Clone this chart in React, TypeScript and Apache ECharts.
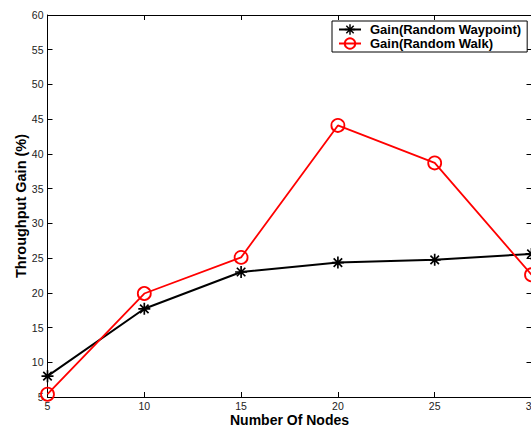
import React, { useEffect, useRef } from "react";
import * as echarts from "echarts";

const nodes = [5, 10, 15, 20, 25, 30];
const gainWaypoint = [8.0, 17.7, 23.0, 24.35, 24.75, 25.6];
const gainWalk = [5.4, 19.9, 25.1, 44.1, 38.7, 22.6];

function asteriskPath(): string {
  const c = 10, L = 10, w = 1.4;
  let d = "";
  for (const deg of [0, 45, 90, 135]) {
    const a = (deg * Math.PI) / 180;
    const dx = Math.cos(a), dy = Math.sin(a);
    const nx = -Math.sin(a), ny = Math.cos(a);
    const p = [
      [c - L * dx - w * nx, c - L * dy - w * ny],
      [c + L * dx - w * nx, c + L * dy - w * ny],
      [c + L * dx + w * nx, c + L * dy + w * ny],
      [c - L * dx + w * nx, c - L * dy + w * ny],
    ];
    d += `M${p[0][0].toFixed(3)} ${p[0][1].toFixed(3)}L${p[1][0].toFixed(3)} ${p[1][1].toFixed(3)}L${p[2][0].toFixed(3)} ${p[2][1].toFixed(3)}L${p[3][0].toFixed(3)} ${p[3][1].toFixed(3)}Z`;
  }
  return "path://" + d;
}

export default function App() {
  const ref = useRef<HTMLDivElement>(null);
  useEffect(() => {
    if (!ref.current) return;
    const chart = echarts.init(ref.current, null, { renderer: "svg" });
    const font = "'Liberation Sans', Arial, Helvetica, sans-serif";
    const tickLabel = { color: "#222", fontSize: 10.5, lineHeight: 11, fontFamily: font };
    const axisLine = { show: true, lineStyle: { color: "#000", width: 1 } };
    const axisTick = { show: true, inside: true, length: 5, lineStyle: { color: "#000", width: 1 } };
    chart.setOption({
      animation: false,
      backgroundColor: "#fff",
      grid: { left: 47.5, top: 15, right: 28.5, bottom: 31, containLabel: false, outerBoundsMode: "none" },
      legend: {
        orient: "vertical",
        left: 332,
        top: 21,
        padding: [2, 6, 2, 6],
        itemGap: 1,
        itemWidth: 22,
        itemHeight: 13,
        borderColor: "#000",
        borderWidth: 1,
        backgroundColor: "#fff",
        textStyle: { color: "#000", fontSize: 13, fontWeight: "bold", fontFamily: font, padding: [0, 0, 0, 4] },
        data: ["Gain(Random Waypoint)", "Gain(Random Walk)"],
      },
      xAxis: [
        {
          type: "value", min: 5, max: 30, interval: 5, position: "bottom",
          name: "Number Of Nodes", nameLocation: "middle", nameGap: 15.5, nameMoveOverlap: false,
          nameTextStyle: { color: "#000", fontSize: 14, lineHeight: 14, fontWeight: "bold", fontFamily: font },
          axisLine, axisTick, axisLabel: { ...tickLabel, margin: 3.5 }, splitLine: { show: false },
        },
        {
          type: "value", min: 5, max: 30, interval: 5, position: "top",
          axisLine, axisTick, axisLabel: { show: false }, splitLine: { show: false },
        },
      ],
      yAxis: [
        {
          type: "value", min: 5, max: 60, interval: 5, position: "left",
          name: "Throughput Gain (%)", nameLocation: "middle", nameGap: 19, nameMoveOverlap: false,
          nameTextStyle: { color: "#000", fontSize: 14.5, fontWeight: "bold", fontFamily: font },
          axisLine, axisTick, axisLabel: { ...tickLabel, margin: 4 }, splitLine: { show: false },
        },
        {
          type: "value", min: 5, max: 60, interval: 5, position: "right",
          axisLine, axisTick, axisLabel: { show: false }, splitLine: { show: false },
        },
      ],
      series: [
        {
          name: "Gain(Random Waypoint)", type: "line",
          data: nodes.map((n, i) => [n, gainWaypoint[i]]),
          symbol: asteriskPath(), symbolSize: 12,
          lineStyle: { color: "#000", width: 2 }, itemStyle: { color: "#000" }, z: 3,
        },
        {
          name: "Gain(Random Walk)", type: "line",
          data: nodes.map((n, i) => [n, gainWalk[i]]),
          symbol: "circle", symbolSize: 13,
          lineStyle: { color: "#ff0000", width: 1.8 },
          itemStyle: { color: "rgba(0,0,0,0)", borderColor: "#ff0000", borderWidth: 1.8 }, z: 4,
        },
      ],
    });
    return () => chart.dispose();
  }, []);
  return (
    <div style={{ position: "fixed", left: 0, top: 0, width: 531, height: 428, overflow: "hidden", background: "#fff" }}>
      <div ref={ref} style={{ width: 560, height: 428 }} />
    </div>
  );
}
